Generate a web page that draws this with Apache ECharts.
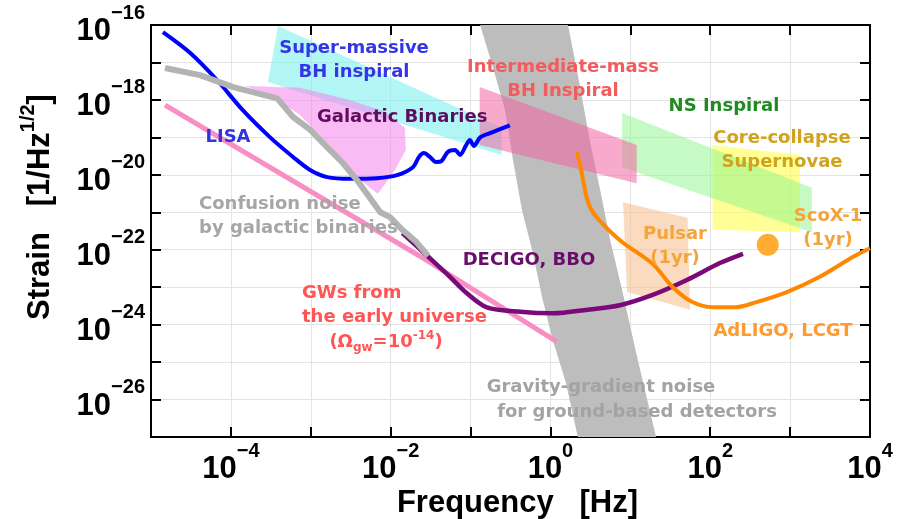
<!DOCTYPE html>
<html>
<head>
<meta charset="utf-8">
<script src="https://cdn.jsdelivr.net/npm/echarts@6/dist/echarts.min.js"></script>
<style>
html, body { margin: 0; padding: 0; background: #fff; }
#main { width: 898px; height: 519px; }
</style>
</head>
<body>
<div id="main"></div>
<script>
// curves: [frequency (Hz), strain (1/Hz^1/2)]
const lisaCurve = [
  [1.41e-5, 6.5e-17], [3.1e-5, 1.8e-17], [6.7e-5, 3.4e-18], [1.4e-4, 5.4e-19],
  [3.1e-4, 1.0e-19], [6.0e-4, 3.0e-20], [9.8e-4, 1.35e-20], [1.6e-3, 8.7e-21],
  [3.1e-3, 7.8e-21], [6.7e-3, 8.1e-21], [1.2e-2, 9.8e-21], [1.9e-2, 1.6e-20],
  [2.26e-2, 3.0e-20], [2.6e-2, 3.8e-20], [3.1e-2, 3.0e-20], [3.7e-2, 2.2e-20],
  [4.3e-2, 2.3e-20], [5.2e-2, 4.1e-20], [6.4e-2, 4.6e-20], [7.4e-2, 3.4e-20],
  [8.7e-2, 5.9e-20], [9.8e-2, 8.5e-20], [0.11, 5.9e-20], [0.132, 1.0e-19],
  [0.175, 1.3e-19], [0.31, 2.1e-19]
];
const confusionCurve = [
  [1.5e-5, 7.1e-18], [4.1e-5, 4.6e-18], [1.07e-4, 2.2e-18], [3.8e-4, 1.1e-18],
  [6.0e-4, 3.5e-19], [9.8e-4, 1.6e-19], [1.6e-3, 5.5e-20], [2.5e-3, 2.1e-20],
  [3.8e-3, 7.2e-21], [5.0e-3, 3.2e-21], [7.4e-3, 1.0e-21], [9.8e-3, 7.4e-22],
  [1.4e-2, 3.4e-22], [2.1e-2, 1.6e-22], [2.95e-2, 6.8e-23]
];
const earlyUniverse = [[1.5e-5, 7.3e-19], [2.3e-2, 6.8e-23], [1.2, 3.5e-25]];
const decigoCurve = [
  [1.4e-2, 2.8e-22], [2.95e-2, 6.5e-23], [5.5e-2, 1.9e-23], [9.0e-2, 6.9e-24],
  [0.16, 2.9e-24], [0.42, 2.2e-24], [1.07, 2.0e-24], [2.9, 2.5e-24],
  [7.4, 3.3e-24], [19, 6.2e-24], [51, 1.55e-23], [132, 4.4e-23], [257, 7.8e-23]
];
const adligoCurve = [
  [2.15, 4.1e-20], [2.4, 1.5e-20], [2.9, 2.1e-21], [3.6, 8.5e-22], [7.4, 1.8e-22],
  [19, 4.2e-23], [34, 1.0e-23], [60, 4.0e-24], [107, 2.9e-24], [204, 2.9e-24],
  [380, 4.0e-24], [910, 7.4e-24], [2350, 1.9e-23], [6150, 6.5e-23], [1e4, 1.1e-22]
];
const scoX1 = [[525, 1.35e-22]];

// regions (polygon corners)
const smbhBand = [[3.9e-4, 9.4e-17], [0.245, 1.8e-19], [0.245, 3.4e-20], [2.9e-4, 3.0e-18]];
const galacticBand = [
  [1.5e-4, 2.35e-18], [7.3e-4, 2.1e-18], [3.1e-3, 1.0e-18], [8.5e-3, 4.8e-19],
  [1.5e-2, 1.8e-19], [1.55e-2, 4.6e-20], [1.1e-2, 1.2e-20], [6.9e-3, 3.1e-21],
  [4.2e-3, 7.2e-21], [1.7e-3, 6.3e-20], [7.3e-4, 4.0e-19], [3.1e-4, 1.35e-18]
];
const imbhBand = [[0.13, 2.2e-18], [12, 6.3e-20], [12, 6.0e-21], [0.13, 6.3e-20]];
const nsBand = [[7.9, 4.5e-19], [1870, 4.5e-21], [1870, 2.95e-22], [7.9, 1.6e-20]];
const supernovaBand = [[107, 6.3e-20], [1320, 3.4e-20], [1320, 2.95e-22], [107, 3.4e-22]];
const pulsarBand = [[8.1, 1.85e-21], [52, 7.1e-22], [56, 2.5e-24], [9.1, 7.4e-24]];
const gravGradBand = [
  [0.132, 1e-16], [0.19, 7.6e-18], [0.27, 5.4e-19], [0.34, 2.5e-20], [0.44, 1.15e-21],
  [0.59, 9.8e-23], [0.8, 4.6e-24], [1.07, 3.9e-25], [1.56, 2.8e-26], [2.2, 1e-27],
  [21, 1e-27], [12, 1.55e-25], [7.9, 8.3e-24], [5.6, 1.8e-22], [4.2, 3.9e-21],
  [3.1, 8.5e-20], [2.35, 2.2e-18], [1.66, 1e-16]
];

const chart = echarts.init(document.getElementById('main'));

// both axes are decades (log10 of Hz and of strain)
const lg = pts => pts.map(p => [Math.log10(p[0]), Math.log10(p[1])]);

const tickFmt = e => {
  e = Math.round(e);
  if (e % 2 !== 0) return '';
  return '{b|10}{s|' + (e < 0 ? '\u2212' + (-e) : e) + '}';
};
const tickRich = {
  b: { fontSize: 31, fontWeight: 'bold', fontFamily: 'Liberation Sans', color: '#000', lineHeight: 44, verticalAlign: 'bottom' },
  s: { fontSize: 20, fontWeight: 'bold', fontFamily: 'Liberation Sans', color: '#000', lineHeight: 22, verticalAlign: 'top' }
};

const band = (pts, fill) => {
  const data = lg(pts);
  return {
    type: 'custom', data: data, clip: true, silent: true,
    renderItem: (params, api) => {
      if (params.dataIndex !== 0) return;
      return { type: 'polygon', shape: { points: data.map(p => api.coord(p)) }, style: { fill: fill } };
    }
  };
};
const curve = (pts, color, width, smooth) => ({
  type: 'line', data: lg(pts), showSymbol: false, smooth: smooth, silent: true,
  lineStyle: { color: color, width: width }
});

const txt = (x, y, text, color, align) => ({
  type: 'text', x: x, y: y, z: 100, silent: true,
  style: {
    text: text, fill: color, font: 'bold 18px "DejaVu Sans"', lineHeight: 24,
    align: align || 'center', verticalAlign: 'middle',
    textAlign: align || 'center', textVerticalAlign: 'middle'
  }
});

const axisCommon = {
  type: 'value', interval: 1,
  axisLine: { onZero: false, lineStyle: { color: '#000', width: 2 } },
  axisTick: { inside: true, length: 10, lineStyle: { color: '#000', width: 2 } }
};

chart.setOption({
  animation: false,
  backgroundColor: '#fff',
  grid: { left: 151, top: 25, right: 28, bottom: 82, containLabel: false, outerBoundsMode: 'none' },
  xAxis: [
    Object.assign({}, axisCommon, {
      min: -5, max: 4, position: 'bottom',
      axisLabel: { formatter: tickFmt, rich: tickRich, margin: 4 },
      splitLine: { show: true, lineStyle: { color: '#e4e4e4', width: 1 } },
      name: 'Frequency   [Hz]', nameLocation: 'middle', nameGap: 51, nameMoveOverlap: false,
      nameTextStyle: { fontSize: 31, fontWeight: 'bold', fontFamily: 'Liberation Sans', color: '#000', padding: [0, 0, 0, 14] }
    }),
    Object.assign({}, axisCommon, { min: -5, max: 4, position: 'top', axisLabel: { show: false }, splitLine: { show: false } })
  ],
  yAxis: [
    Object.assign({}, axisCommon, {
      min: -27, max: -16, position: 'left',
      axisLabel: { formatter: tickFmt, rich: tickRich, margin: 6 },
      splitLine: { show: true, lineStyle: { color: '#e4e4e4', width: 1 } },
      name: '{a|Strain   [1/Hz}{s|1/2}{a|]}', nameLocation: 'middle', nameRotate: 90, nameGap: 95,
      nameTextStyle: {
        padding: [0, 0, 0, 48],
        rich: {
          a: { fontSize: 31, fontWeight: 'bold', fontFamily: 'Liberation Sans', color: '#000', lineHeight: 38, verticalAlign: 'bottom' },
          s: { fontSize: 20, fontWeight: 'bold', fontFamily: 'Liberation Sans', color: '#000', lineHeight: 20, verticalAlign: 'top' }
        }
      }
    }),
    Object.assign({}, axisCommon, { min: -27, max: -16, position: 'right', axisLabel: { show: false }, splitLine: { show: false } })
  ],
  series: [
    band(smbhBand, 'rgba(128, 240, 240, 0.6)'),
    band(galacticBand, 'rgba(245, 130, 235, 0.55)'),
    band(pulsarBand, 'rgba(247, 190, 140, 0.55)'),
    band(supernovaBand, 'rgba(255, 255, 80, 0.6)'),
    band(nsBand, 'rgba(140, 245, 140, 0.5)'),
    band(gravGradBand, '#bdbdbd'),
    curve(earlyUniverse, '#f78fc4', 5, false),
    curve(decigoCurve, '#7a0a7a', 4.5, 0.3),
    curve(adligoCurve, '#ff8800', 4, 0.3),
    curve(lisaCurve, '#0000ff', 4, 0.3),
    curve(confusionCurve, '#b3b3b3', 6, false),
    { type: 'scatter', data: lg(scoX1), symbolSize: 22, silent: true, itemStyle: { color: '#ff9900' } },
    band(imbhBand, 'rgba(240, 100, 160, 0.55)')
  ],
  graphic: [
    txt(354, 60, 'Super-massive\nBH inspiral', '#3535e8'),
    txt(228, 137, 'LISA', '#3333dd'),
    txt(317, 117, 'Galactic Binaries', '#5e0d5e', 'left'),
    txt(563, 79, 'Intermediate-mass\nBH Inspiral', '#f25c5c'),
    txt(724, 106, 'NS Inspiral', '#1f8a1f'),
    txt(782, 150, 'Core-collapse\nSupernovae', '#d1a21c'),
    txt(828, 228, 'ScoX-1\n(1yr)', '#f5a43a'),
    txt(675, 246, 'Pulsar\n(1yr)', '#f5a43a'),
    txt(199, 216, 'Confusion noise\nby galactic binaries', '#a6a6a6', 'left'),
    txt(529, 260, 'DECIGO, BBO', '#6a0d6a'),
    txt(302, 305, 'GWs from\nthe early universe', '#ff5555', 'left'),
    {
      type: 'text', x: 386, y: 342, z: 100, silent: true,
      style: {
        text: '{a|(\u03A9}{sub|gw}{a|=10}{sup|-14}{a|)}',
        align: 'center', verticalAlign: 'middle', textAlign: 'center', textVerticalAlign: 'middle',
        rich: {
          a: { fontSize: 18, fontWeight: 'bold', fontFamily: 'DejaVu Sans', fill: '#ff5555', color: '#ff5555', lineHeight: 24 },
          sub: { fontSize: 12, fontWeight: 'bold', fontFamily: 'DejaVu Sans', fill: '#ff5555', color: '#ff5555', lineHeight: 12, verticalAlign: 'bottom' },
          sup: { fontSize: 12, fontWeight: 'bold', fontFamily: 'DejaVu Sans', fill: '#ff5555', color: '#ff5555', lineHeight: 12, verticalAlign: 'top' }
        }
      }
    },
    txt(783, 331, 'AdLIGO, LCGT', '#ff9a30'),
    txt(601, 387, 'Gravity-gradient noise', '#a3a3a3'),
    txt(637, 412, 'for ground-based detectors', '#a3a3a3')
  ]
});
</script>
</body>
</html>
